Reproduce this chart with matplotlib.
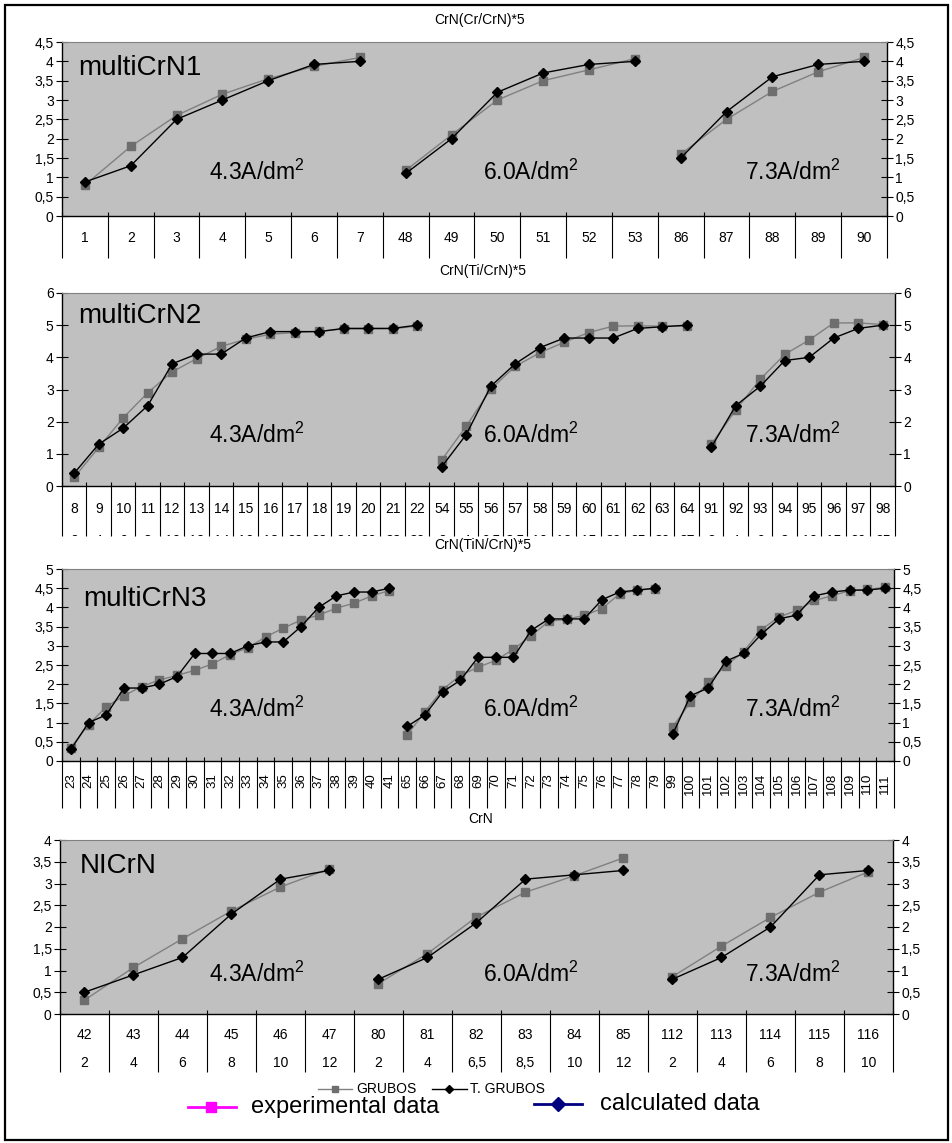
import matplotlib
matplotlib.use('Agg')
import matplotlib.pyplot as plt
from matplotlib.lines import Line2D
from matplotlib.patches import Rectangle
from matplotlib.ticker import FuncFormatter
import numpy as np

plt.rcParams['font.family'] = ['Liberation Sans', 'DejaVu Sans']
plt.rcParams['mathtext.fontset'] = 'custom'
plt.rcParams['mathtext.rm'] = 'Liberation Sans'

# ---- données ----
cats1 = ['1', '2', '3', '4', '5', '6', '7', '48', '49', '50', '51', '52', '53',
         '86', '87', '88', '89', '90']
groups1 = [7, 6, 5]
grubos1 = [0.8, 1.8, 2.6, 3.15, 3.55, 3.87, 4.1, 1.18, 2.1, 3.0, 3.5, 3.78, 4.07,
           1.6, 2.5, 3.22, 3.73, 4.1]
tgrubos1 = [0.88, 1.3, 2.5, 3.0, 3.5, 3.92, 4.0, 1.1, 2.0, 3.2, 3.7, 3.92, 4.0,
            1.5, 2.7, 3.6, 3.92, 4.0]

cats2 = ['8', '9', '10', '11', '12', '13', '14', '15', '16', '17', '18', '19', '20', '21', '22',
         '54', '55', '56', '57', '58', '59', '60', '61', '62', '63', '64',
         '91', '92', '93', '94', '95', '96', '97', '98']
sub2 = ['2', '4', '6', '8', '10', '12', '14', '16', '18', '20', '22', '24', '26', '28', '30',
        '2', '4', '6,5', '8,5', '10', '12', '15', '20', '25', '30', '37',
        '2', '4', '6', '8', '10', '15', '20', '25']
groups2 = [15, 11, 8]
grubos2 = [0.27, 1.2, 2.12, 2.9, 3.55, 3.96, 4.34, 4.56, 4.72, 4.77, 4.81, 4.88, 4.88, 4.89, 4.97,
           0.81, 1.86, 3.01, 3.72, 4.14, 4.47, 4.77, 4.97, 4.98, 4.97, 4.97,
           1.3, 2.36, 3.32, 4.09, 4.54, 5.07, 5.07, 5.02]
tgrubos2 = [0.4, 1.3, 1.8, 2.5, 3.8, 4.1, 4.1, 4.6, 4.8, 4.8, 4.8, 4.9, 4.9, 4.9, 5.0,
            0.6, 1.6, 3.1, 3.8, 4.3, 4.6, 4.6, 4.6, 4.9, 4.95, 5.0,
            1.2, 2.5, 3.1, 3.9, 4.0, 4.6, 4.9, 5.0]

cats3 = ['23', '24', '25', '26', '27', '28', '29', '30', '31', '32', '33', '34', '35', '36',
         '37', '38', '39', '40', '41',
         '65', '66', '67', '68', '69', '70', '71', '72', '73', '74', '75', '76', '77', '78', '79',
         '99', '100', '101', '102', '103', '104', '105', '106', '107', '108', '109', '110', '111']
groups3 = [19, 15, 13]
grubos3 = [0.35, 0.95, 1.41, 1.7, 1.94, 2.11, 2.23, 2.36, 2.53, 2.77, 2.95, 3.23, 3.46, 3.67,
           3.8, 3.98, 4.11, 4.3, 4.44,
           0.68, 1.28, 1.86, 2.23, 2.44, 2.62, 2.91, 3.26, 3.64, 3.69, 3.79, 3.97, 4.35, 4.45, 4.49,
           0.89, 1.53, 2.05, 2.48, 2.85, 3.42, 3.75, 3.92, 4.18, 4.3, 4.44, 4.47, 4.52]
tgrubos3 = [0.3, 1.0, 1.2, 1.9, 1.9, 2.0, 2.2, 2.8, 2.8, 2.8, 3.0, 3.1, 3.1, 3.5,
            4.0, 4.3, 4.4, 4.4, 4.5,
            0.9, 1.2, 1.8, 2.1, 2.7, 2.7, 2.7, 3.4, 3.7, 3.7, 3.7, 4.2, 4.4, 4.45, 4.5,
            0.7, 1.7, 1.9, 2.6, 2.8, 3.3, 3.7, 3.8, 4.3, 4.4, 4.45, 4.45, 4.5]

cats4 = ['42', '43', '44', '45', '46', '47', '80', '81', '82', '83', '84', '85',
         '112', '113', '114', '115', '116']
sub4 = ['2', '4', '6', '8', '10', '12', '2', '4', '6,5', '8,5', '10', '12',
        '2', '4', '6', '8', '10']
groups4 = [6, 6, 5]
grubos4 = [0.32, 1.07, 1.73, 2.37, 2.92, 3.34, 0.7, 1.39, 2.23, 2.8, 3.18, 3.59,
           0.86, 1.56, 2.22, 2.8, 3.27]
tgrubos4 = [0.5, 0.9, 1.3, 2.3, 3.1, 3.3, 0.8, 1.3, 2.1, 3.1, 3.2, 3.3,
            0.8, 1.3, 2.0, 3.2, 3.3]

densites = ['4.3A/dm$^2$', '6.0A/dm$^2$', '7.3A/dm$^2$']

W, H = 953, 1143
fig = plt.figure(figsize=(W / 100, H / 100), dpi=100)


def fx(px):
    return px / W


def fy(py):
    return 1 - py / H


def virgule(v, pos=None):
    return ('%g' % v).replace('.', ',')


def panneau(box, cats, groups, grubos, tgrubos, ymax, ystep, titre, nom,
            titre_pos, nom_pos, dens_y, row1, sub=None, row2=None, vertical=False):
    x0, y0, x1, y1, tb = box
    n = len(cats)
    ax = fig.add_axes([fx(x0), fy(y1), (x1 - x0) / W, (y1 - y0) / H])
    ax.set_facecolor('#C0C0C0')
    debut = 0
    for g in groups:
        idx = np.arange(debut, debut + g)
        ax.plot(idx, grubos[debut:debut + g], color='#808080', lw=1, marker='s', ms=5.5,
                mfc='#6E6E6E', mec='#6E6E6E', clip_on=False, zorder=3)
        ax.plot(idx, tgrubos[debut:debut + g], color='black', lw=1, marker='D', ms=5.5,
                mfc='black', mec='black', clip_on=False, zorder=4)
        debut += g
    ax.set_xlim(-0.5, n - 0.5)
    ax.set_ylim(0, ymax)
    ax.set_yticks(np.arange(0, ymax + 1e-9, ystep))
    ax.yaxis.set_major_formatter(FuncFormatter(virgule))
    ax.set_xticks([])
    ax.tick_params(axis='y', direction='inout', length=8, width=0.8, left=True, right=True,
                   labelleft=True, labelright=True, labelsize=10, pad=2)
    ax.spines['top'].set_color('#808080')
    for s in ['left', 'right', 'bottom']:
        ax.spines[s].set_color('black')
        ax.spines[s].set_linewidth(1)

    # tableau des catégories sous l'axe
    th = tb - y1
    at = fig.add_axes([fx(x0), fy(tb), (x1 - x0) / W, th / H])
    at.set_xlim(-0.5, n - 0.5)
    at.set_ylim(0, 1)
    at.patch.set_alpha(0)
    for s in at.spines.values():
        s.set_visible(False)
    at.set_xticks([])
    at.set_yticks([])
    at.vlines(np.arange(n + 1) - 0.5, 0, 1 + 4 / th, colors='black', lw=0.8, clip_on=False)
    for i, c in enumerate(cats):
        if vertical:
            at.text(i, (tb - row1) / th, c, rotation=90, ha='center', va='top',
                    fontsize=9.5, clip_on=True)
        else:
            at.text(i, (tb - row1) / th, c, ha='center', va='baseline', fontsize=10, clip_on=True)
    if sub is not None:
        for i, c in enumerate(sub):
            at.text(i, (tb - row2) / th, c, ha='center', va='baseline', fontsize=10, clip_on=True)

    fig.text(fx(titre_pos[0]), fy(titre_pos[1]), titre, ha='center', va='baseline', fontsize=10)
    fig.text(fx(nom_pos[0]), fy(nom_pos[1]), nom, ha='left', va='baseline', fontsize=20)
    for xc, lab in zip([257, 531, 793], densites):
        fig.text(fx(xc), fy(dens_y), lab, ha='center', va='baseline', fontsize=16.5)
    return ax


panneau((62, 42, 887, 216, 258), cats1, groups1, grubos1, tgrubos1, 4.5, 0.5,
        'CrN(Cr/CrN)*5', 'multiCrN1', (480, 24), (78, 75), 180, 242)
panneau((62, 293, 895, 486, 536), cats2, groups2, grubos2, tgrubos2, 6, 1,
        'CrN(Ti/CrN)*5', 'multiCrN2', (483, 275), (78, 323), 443, 513, sub2, 545)
panneau((62, 569, 894, 761, 808), cats3, groups3, grubos3, tgrubos3, 5, 0.5,
        'CrN(TiN/CrN)*5', 'multiCrN3', (483, 549), (83, 606), 717, 773, vertical=True)
panneau((60, 840, 893, 1014, 1072), cats4, groups4, grubos4, tgrubos4, 4, 0.5,
        'CrN', 'NICrN', (481, 823), (80, 873), 982, 1039, sub4, 1067)

# petite légende
ly = 1089
fig.add_artist(Line2D([fx(318), fx(352)], [fy(ly)] * 2, color='#808080', lw=1,
                      transform=fig.transFigure))
fig.add_artist(Line2D([fx(335)], [fy(ly)], marker='s', ms=5, color='#6E6E6E',
                      transform=fig.transFigure))
fig.text(fx(356), fy(ly), 'GRUBOS', ha='left', va='center', fontsize=10)
fig.add_artist(Line2D([fx(432), fx(467)], [fy(ly)] * 2, color='black', lw=1,
                      transform=fig.transFigure))
fig.add_artist(Line2D([fx(449)], [fy(ly)], marker='D', ms=4.5, color='black',
                      transform=fig.transFigure))
fig.text(fx(470), fy(ly), 'T. GRUBOS', ha='left', va='center', fontsize=10)

# grande légende
gy = 1107
fig.add_artist(Line2D([fx(188), fx(236)], [fy(gy)] * 2, color='#FF00FF', lw=2,
                      transform=fig.transFigure))
fig.add_artist(Line2D([fx(211)], [fy(gy)], marker='s', ms=7, color='#FF00FF',
                      transform=fig.transFigure))
fig.text(fx(251), fy(gy), 'experimental data', ha='left', va='center', fontsize=17)
fig.add_artist(Line2D([fx(534), fx(582)], [fy(gy - 3)] * 2, color='#000080', lw=2,
                      transform=fig.transFigure))
fig.add_artist(Line2D([fx(558)], [fy(gy - 3)], marker='D', ms=7, color='#000080',
                      transform=fig.transFigure))
fig.text(fx(600), fy(gy - 3), 'calculated data', ha='left', va='center', fontsize=17)

# cadre
fig.add_artist(Rectangle((fx(5), fy(1140)), 943 / W, 1135 / H, transform=fig.transFigure,
                         fill=False, lw=1.6, ec='black'))

fig.savefig('out.png', dpi=100)
